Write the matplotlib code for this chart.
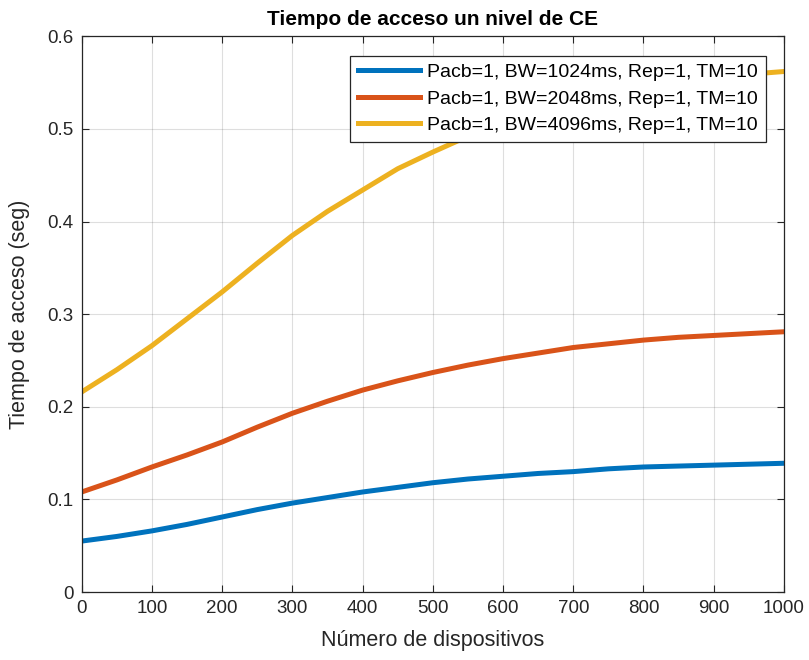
import numpy as np
import matplotlib.pyplot as plt

# fuente estilo Helvetica
plt.rcParams['font.family'] = ['Liberation Sans', 'DejaVu Sans']

n_disp = [0, 50, 100, 150, 200, 250, 300, 350, 400, 450, 500,
          550, 600, 650, 700, 750, 800, 850, 900, 950, 1000]
t_bw1024 = [0.055, 0.060, 0.066, 0.073, 0.081, 0.089, 0.096, 0.102, 0.108, 0.113, 0.118,
            0.122, 0.125, 0.128, 0.130, 0.133, 0.135, 0.136, 0.137, 0.138, 0.139]
t_bw2048 = [0.108, 0.121, 0.135, 0.148, 0.162, 0.178, 0.193, 0.206, 0.218, 0.228, 0.237,
            0.245, 0.252, 0.258, 0.264, 0.268, 0.272, 0.275, 0.277, 0.279, 0.281]
t_bw4096 = [0.216, 0.240, 0.266, 0.295, 0.324, 0.355, 0.385, 0.411, 0.434, 0.457, 0.475,
            0.492, 0.508, 0.520, 0.530, 0.538, 0.545, 0.551, 0.556, 0.559, 0.562]
etiquetas = ['Pacb=1, BW=1024ms, Rep=1, TM=10',
             'Pacb=1, BW=2048ms, Rep=1, TM=10',
             'Pacb=1, BW=4096ms, Rep=1, TM=10']
colores = ['#0072BD', '#D95319', '#EDB120']

fig = plt.figure(figsize=(8.09, 6.6), dpi=100)
ax = fig.add_axes([0.101, 0.103, 0.868, 0.842])

for y, lab, c in zip([t_bw1024, t_bw2048, t_bw4096], etiquetas, colores):
    ax.plot(n_disp, y, color=c, lw=3.6, label=lab, solid_joinstyle='round')

ax.set_xlim(0, 1000)
ax.set_ylim(0, 0.6)
ax.set_xticks(np.arange(0, 1001, 100))
ax.set_yticks(np.arange(0, 0.61, 0.1))
ax.set_yticklabels(['0', '0.1', '0.2', '0.3', '0.4', '0.5', '0.6'])
ax.grid(True, color='#262626', alpha=0.15, lw=0.8)
ax.tick_params(direction='in', top=True, right=True, length=5,
               labelsize=13.5, colors='#262626', pad=6)
for s in ax.spines.values():
    s.set_color('#262626')
    s.set_linewidth(0.9)

ax.set_xlabel('Número de dispositivos', fontsize=15.5, color='#262626', labelpad=9)
ax.set_ylabel('Tiempo de acceso (seg)', fontsize=15.5, color='#262626', labelpad=12)
ax.set_title('Tiempo de acceso un nivel de CE', fontsize=15, fontweight='bold', pad=8)

leg = ax.legend(loc='upper right', bbox_to_anchor=(0.974, 0.965), fontsize=14,
                fancybox=False, framealpha=1, edgecolor='#262626',
                borderpad=0.4, labelspacing=0.45, handlelength=3.2,
                handletextpad=0.35, borderaxespad=0)
leg.get_frame().set_linewidth(0.9)

fig.savefig('out.png', dpi=100)
